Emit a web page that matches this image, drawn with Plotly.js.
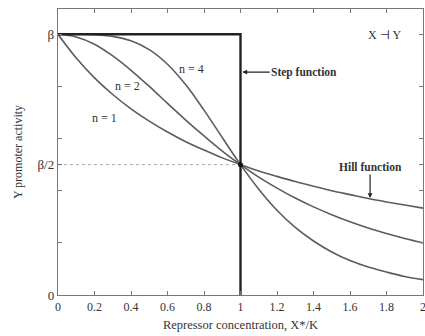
<!DOCTYPE html>
<html>
<head>
<meta charset="utf-8">
<script src="https://cdn.plot.ly/plotly-3.0.1.min.js"></script>
<style>html,body{margin:0;padding:0;background:#fff;}#chart{width:425px;height:336px;}</style>
</head>
<body>
<div id="chart"></div>
<script>
// Repressor concentration X*/K
const xVals = [0,0.1,0.2,0.3,0.4,0.5,0.6,0.7,0.8,0.9,1.0,1.1,1.2,1.3,1.4,1.5,1.6,1.7,1.8,1.9,2.0];
// Promoter activity (fraction of beta)
const hillN1 = [1.000,0.909,0.833,0.769,0.714,0.667,0.625,0.588,0.556,0.526,0.500,0.476,0.455,0.435,0.417,0.400,0.385,0.370,0.357,0.345,0.333];
const hillN2 = [1.000,0.990,0.962,0.917,0.862,0.800,0.735,0.671,0.610,0.552,0.500,0.452,0.410,0.372,0.338,0.308,0.281,0.257,0.236,0.217,0.200];
const hillN4 = [1.000,1.000,0.998,0.992,0.975,0.941,0.885,0.806,0.709,0.604,0.500,0.406,0.325,0.259,0.207,0.165,0.132,0.107,0.088,0.071,0.059];
const stepX = [0,1,1];
const stepY = [1,1,0];
const halfX = [0,1];
const halfY = [0.5,0.5];
const xTicks = [0,0.2,0.4,0.6,0.8,1,1.2,1.4,1.6,1.8,2];
const xTickText = ['0','0.2','0.4','0.6','0.8','1','1.2','1.4','1.6','1.8','2'];
const yTicks = [0,0.2,0.4,0.5,0.6,0.8,1];
const yTickText = ['0','','','β/2','','','β'];

const curveColor = '#5c5c5c';
const serif = '"Liberation Serif", "DejaVu Serif", serif';
const traces = [
  {x: halfX, y: halfY, mode:'lines', line:{color:'#aaaaaa', width:1, dash:'dot'}, hoverinfo:'skip'},
  {x: xVals, y: hillN1, mode:'lines', line:{color:curveColor, width:1.6, shape:'spline', smoothing:1}},
  {x: xVals, y: hillN2, mode:'lines', line:{color:curveColor, width:1.6, shape:'spline', smoothing:1}},
  {x: xVals, y: hillN4, mode:'lines', line:{color:curveColor, width:1.6, shape:'spline', smoothing:1}},
  {x: stepX, y: stepY, mode:'lines', line:{color:'#222222', width:2.4}},
  {x: [1], y: [0.5], mode:'markers', marker:{color:'#111', size:5}}
];

const layout = {
  width:425, height:336,
  margin:{l:58, r:2, t:9, b:41},
  showlegend:false,
  paper_bgcolor:'#fff', plot_bgcolor:'#fff',
  font:{family:serif, color:'#333', size:12},
  xaxis:{
    range:[0,2], tickvals:xTicks, ticktext:xTickText, ticks:'inside', ticklen:4, tickcolor:'#777',
    showline:true, linecolor:'#777', linewidth:1.2, mirror:'ticks', showgrid:false, zeroline:false,
    ticklabeloverflow:'allow',
    tickfont:{family:serif, size:12, color:'#333'},
    title:{text:'Repressor concentration, X*/K', font:{family:serif, size:12.5, color:'#333'}, standoff:7}
  },
  yaxis:{
    range:[0,1.097], tickvals:yTicks, ticktext:yTickText, ticks:'inside', ticklen:4, tickcolor:'#777',
    showline:true, linecolor:'#777', linewidth:1.2, mirror:'ticks', showgrid:false, zeroline:false,
    tickfont:{family:serif, size:13, color:'#333'},
    title:{text:'Y promoter activity', font:{family:serif, size:12, color:'#333'}, standoff:12}
  },
  annotations:[
    {x:0.73, y:0.867, text:'n = 4', showarrow:false, font:{size:12}},
    {x:0.38, y:0.80, text:'n = 2', showarrow:false, font:{size:12}},
    {x:0.255, y:0.68, text:'n = 1', showarrow:false, font:{size:12}},
    {x:1.79, y:0.996, text:'X ⊣ Y', showarrow:false, font:{size:12}},
    {x:1.01, y:0.855, text:'<b>Step function</b>', showarrow:true, arrowhead:2, arrowsize:0.8, arrowwidth:1.2, arrowcolor:'#222', ax:62, ay:0, font:{size:11.5, color:'#333'}},
    {x:1.71, y:0.372, text:'<b>Hill function</b>', showarrow:true, arrowhead:2, arrowsize:0.8, arrowwidth:1.2, arrowcolor:'#222', ax:0, ay:-31, font:{size:11.5, color:'#333'}}
  ]
};
Plotly.newPlot('chart', traces, layout, {displayModeBar:false, staticPlot:true});
</script>
</body>
</html>
